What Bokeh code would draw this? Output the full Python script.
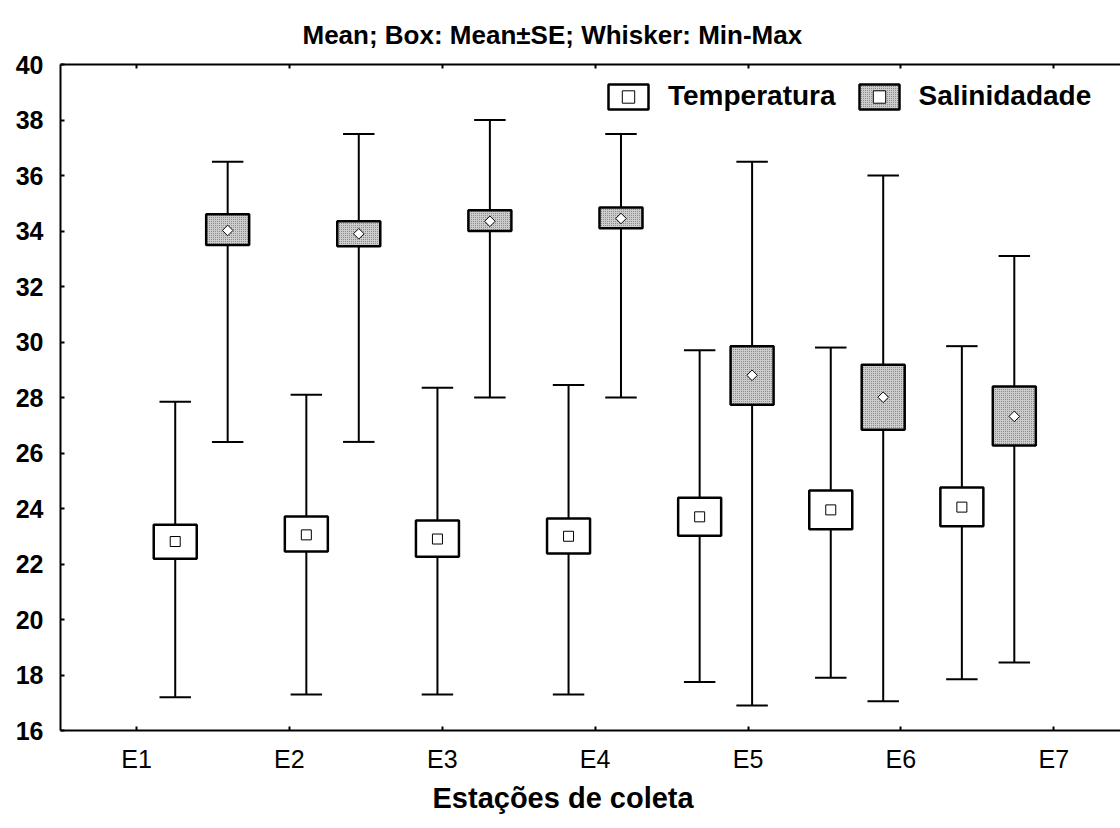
import math
from bokeh.plotting import figure
from bokeh.models import (Range1d, LinearAxis, FixedTicker, Legend, LegendItem,
                          ColumnDataSource, Title)
from bokeh.embed import file_html
from bokeh.resources import INLINE

# ---------------- data ----------------
stations = ["E1", "E2", "E3", "E4", "E5", "E6", "E7"]
y_ticks = [16, 18, 20, 22, 24, 26, 28, 30, 32, 34, 36, 38, 40]

temp_mean = [22.81, 23.05, 22.90, 23.00, 23.70, 23.95, 24.05]
temp_lo = [22.19, 22.45, 22.26, 22.38, 23.02, 23.25, 23.36]
temp_hi = [23.41, 23.71, 23.57, 23.64, 24.39, 24.65, 24.76]
temp_min = [17.20, 17.30, 17.30, 17.30, 17.75, 17.90, 17.85]
temp_max = [27.85, 28.10, 28.35, 28.45, 29.70, 29.80, 29.85]

sal_mean = [34.02, 33.90, 34.35, 34.45, 28.80, 28.01, 27.32]
sal_lo = [33.50, 33.45, 34.00, 34.10, 27.74, 26.84, 26.27]
sal_hi = [34.60, 34.35, 34.75, 34.85, 29.85, 29.18, 28.40]
sal_min = [26.40, 26.40, 28.00, 28.00, 16.90, 17.05, 18.45]
sal_max = [36.50, 37.50, 38.00, 37.50, 36.50, 36.00, 33.10]

# ---------------- layout parameters ----------------
idx = list(range(1, len(stations) + 1))
OFF = 0.2        # group offset of each series
BOX_HW = 0.164   # half width of the boxes
CAP_HW = 0.12    # half width of whisker caps
FONT = "Liberation Sans"


def make_source(offset, mean, lo, hi, mn, mx):
    x = [i + offset for i in idx]
    return ColumnDataSource(dict(
        x=x, mean=mean, lo=lo, hi=hi, mn=mn, mx=mx,
        left=[v - BOX_HW for v in x], right=[v + BOX_HW for v in x],
        cl=[v - CAP_HW for v in x], cr=[v + CAP_HW for v in x],
    ))


src_t = make_source(-OFF, temp_mean, temp_lo, temp_hi, temp_min, temp_max)
src_s = make_source(+OFF, sal_mean, sal_lo, sal_hi, sal_min, sal_max)

p = figure(width=1120, height=828,
           x_range=Range1d(-0.0751, 8.010), y_range=Range1d(16, 40),
           x_axis_location=None, y_axis_location="left",
           min_border_left=60, min_border_right=0,
           min_border_top=64, min_border_bottom=98,
           toolbar_location=None, output_backend="svg")
p.grid.visible = False
p.outline_line_color = None
p.background_fill_color = "white"
p.border_fill_color = "white"

p.extra_x_ranges = {"ticks": Range1d(0.5029, 7.4364)}

# y axis
ya = p.yaxis[0]
ya.ticker = FixedTicker(ticks=y_ticks)
ya.axis_line_width = 2
ya.major_tick_line_width = 2
ya.major_tick_in = 4
ya.major_tick_out = 0
ya.minor_tick_line_color = None
ya.major_label_standoff = 17
ya.major_label_text_font = FONT
ya.major_label_text_font_style = "bold"
ya.major_label_text_font_size = "25px"
ya.major_label_text_color = "black"

# bottom axis
xa = LinearAxis(x_range_name="ticks", ticker=FixedTicker(ticks=idx),
                major_label_overrides={i: s for i, s in zip(idx, stations)})
xa.axis_line_width = 2
xa.major_tick_line_width = 2
xa.major_tick_in = 4
xa.major_tick_out = 0
xa.minor_tick_line_color = None
xa.major_label_standoff = 14
xa.major_label_text_font = FONT
xa.major_label_text_font_size = "25px"
xa.major_label_text_color = "black"
p.add_layout(xa, "below")

# x axis title, placed like the original (slightly left of the frame centre)
xt = Title(text="Estações de coleta", align="left", offset=372,
           text_font=FONT, text_font_style="bold", text_font_size="29px",
           text_color="black", standoff=8)
p.add_layout(xt, "below")

# top axis (ticks only)
ta = LinearAxis(x_range_name="ticks", ticker=FixedTicker(ticks=idx))
ta.axis_line_width = 2
ta.major_tick_line_width = 2
ta.major_tick_in = 4
ta.major_tick_out = 0
ta.minor_tick_line_color = None
ta.major_label_text_alpha = 0
ta.major_label_text_font_size = "1px"
ta.major_label_standoff = 0
p.add_layout(ta, "above")

# title
p.title.text = "Mean; Box: Mean±SE; Whisker: Min-Max"
p.title.align = "left"
p.title.offset = 242
p.title.text_font = FONT
p.title.text_font_style = "bold"
p.title.text_font_size = "26px"
p.title.text_color = "black"
p.title.standoff = 30

# whiskers and caps
for src in (src_t, src_s):
    p.segment(x0="x", y0="mn", x1="x", y1="mx", source=src,
              line_color="black", line_width=2)
    p.segment(x0="cl", y0="mx", x1="cr", y1="mx", source=src,
              line_color="black", line_width=2)
    p.segment(x0="cl", y0="mn", x1="cr", y1="mn", source=src,
              line_color="black", line_width=2)

# boxes
box_t = p.quad(left="left", right="right", bottom="lo", top="hi", source=src_t,
               fill_color="white", line_color="black", line_width=2.5)
box_s = p.quad(left="left", right="right", bottom="lo", top="hi", source=src_s,
               fill_color="#cccccc", hatch_pattern="dot", hatch_scale=2,
               hatch_color="#777777", hatch_weight=1,
               line_color="black", line_width=2.5)

# mean markers
m_t = p.scatter(x="x", y="mean", source=src_t, marker="square", size=10,
                fill_color="white", line_color="black", line_width=1)
m_s = p.scatter(x="x", y="mean", source=src_s, marker="square", size=7.5,
                angle=math.pi / 4, fill_color="white", line_color="black",
                line_width=1)

legend = Legend(items=[LegendItem(label="Temperatura", renderers=[box_t, m_t]),
                       LegendItem(label="Salinidadade", renderers=[box_s, m_s])],
                orientation="horizontal", location=(543, 618),
                glyph_width=50, glyph_height=31, label_standoff=15,
                spacing=18, padding=0, margin=0,
                border_line_color=None, background_fill_alpha=0,
                label_text_font=FONT, label_text_font_style="bold",
                label_text_font_size="28px", label_text_color="black")
p.add_layout(legend)

open("out.html", "w").write(file_html(p, INLINE))
